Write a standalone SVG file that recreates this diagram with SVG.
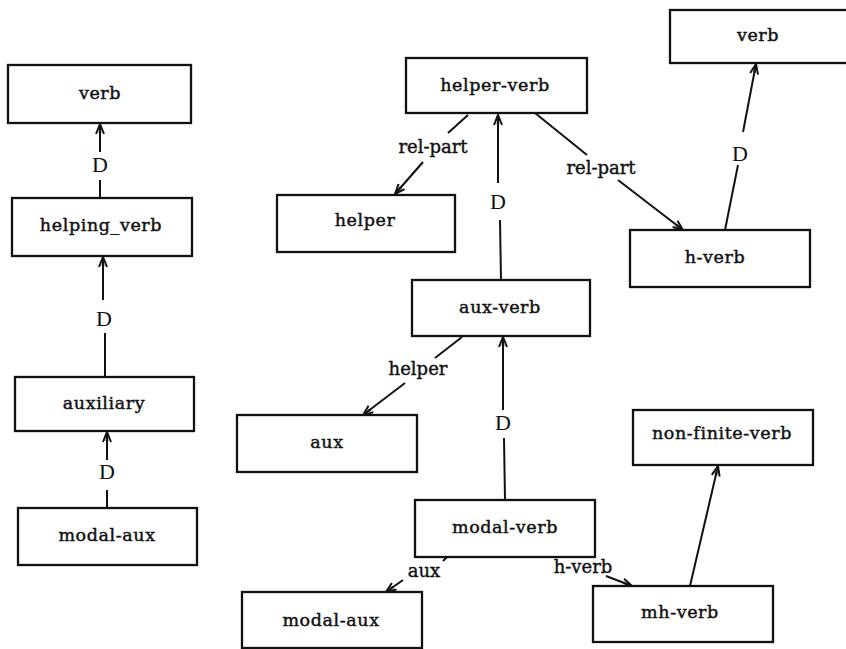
<svg xmlns="http://www.w3.org/2000/svg" width="846" height="649" viewBox="0 0 846 649">
  <style>
    .box { fill: #fff; stroke: #111; stroke-width: 2.3; }
    .lbl { font-family: "DejaVu Serif", "Liberation Serif", serif; font-size: 17.5px; fill: #111; stroke: #111; stroke-width: 0.45; text-anchor: middle; letter-spacing: 0.6px; }
    .elbl { font-family: "DejaVu Serif", "Liberation Serif", serif; font-size: 18px; fill: #111; stroke: #111; stroke-width: 0.4; text-anchor: middle; }
    .d { font-family: "Liberation Serif", serif; font-size: 22px; fill: #111; text-anchor: middle; }
    .edge { fill: none; stroke: #111; stroke-width: 2; }
    .arr { marker-end: url(#head); }
  </style>
  <defs>
    <marker id="head" viewBox="0 0 12 10" refX="11" refY="5" markerWidth="12" markerHeight="10" markerUnits="userSpaceOnUse" orient="auto">
      <path d="M1,1 L11,5 L1,9" fill="none" stroke="#111" stroke-width="2"/>
      <path d="M2,3.6 L11,5 L2,6.4 Z" fill="#111"/>
    </marker>
  </defs>
  <rect width="846" height="649" fill="#fff"/>

  <!-- connectors -->
  <g id="connectors">
    <!-- left column: D links -->
    <line class="edge arr" x1="100" y1="152" x2="100" y2="124"/>
    <line class="edge" x1="100" y1="180" x2="100" y2="198"/>
    <text class="d" x="100" y="172">D</text>

    <line class="edge arr" x1="103" y1="300" x2="103" y2="257"/>
    <line class="edge" x1="105" y1="333" x2="105" y2="377"/>
    <text class="d" x="104" y="326">D</text>

    <line class="edge arr" x1="107" y1="460" x2="107" y2="432"/>
    <line class="edge" x1="107" y1="490" x2="107" y2="508"/>
    <text class="d" x="107" y="479">D</text>

    <!-- helper-verb -> helper (rel-part) -->
    <line class="edge" x1="468" y1="115" x2="448" y2="133"/>
    <line class="edge arr" x1="423" y1="162" x2="395" y2="194"/>
    <text class="elbl" x="433" y="153">rel-part</text>

    <!-- helper-verb -> h-verb (rel-part) -->
    <line class="edge" x1="535" y1="113" x2="587" y2="155"/>
    <line class="edge arr" x1="618" y1="180" x2="683" y2="230"/>
    <text class="elbl" x="601" y="174">rel-part</text>

    <!-- h-verb -> verb (D) -->
    <line class="edge" x1="725" y1="230" x2="738" y2="165"/>
    <line class="edge arr" x1="743" y1="132" x2="756" y2="64"/>
    <text class="d" x="740" y="161">D</text>

    <!-- aux-verb -> helper-verb (D) -->
    <line class="edge arr" x1="498" y1="183" x2="498" y2="115"/>
    <line class="edge" x1="500" y1="220" x2="501" y2="280"/>
    <text class="d" x="498" y="209">D</text>

    <!-- aux-verb -> aux (helper) -->
    <line class="edge" x1="462" y1="337" x2="435" y2="358"/>
    <line class="edge arr" x1="405" y1="383" x2="363" y2="415"/>
    <text class="elbl" x="418" y="375">helper</text>

    <!-- modal-verb -> aux-verb (D) -->
    <line class="edge arr" x1="503" y1="410" x2="503" y2="337"/>
    <line class="edge" x1="504" y1="438" x2="505" y2="500"/>
    <text class="d" x="503" y="430">D</text>

    <!-- modal-verb -> modal-aux (aux) -->
    <line class="edge" x1="447" y1="557" x2="443" y2="561"/>
    <line class="edge arr" x1="403" y1="580" x2="386" y2="592"/>
    <text class="elbl" x="424" y="577">aux</text>

    <!-- modal-verb -> mh-verb (h-verb) -->
    <line class="edge arr" x1="606" y1="576" x2="632" y2="586"/>
    <text class="elbl" x="583" y="573">h-verb</text>

    <!-- mh-verb -> non-finite-verb -->
    <line class="edge arr" x1="690" y1="586" x2="718" y2="466"/>
  </g>

  <!-- left column -->
  <g id="verb-left">
    <rect class="box" x="8" y="65" width="183" height="58"/>
    <text class="lbl" x="100" y="99">verb</text>
  </g>
  <g id="helping-verb">
    <rect class="box" x="12" y="198" width="180" height="58"/>
    <text class="lbl" x="101" y="231">helping_verb</text>
  </g>
  <g id="auxiliary">
    <rect class="box" x="15" y="377" width="179" height="54"/>
    <text class="lbl" x="104" y="409">auxiliary</text>
  </g>
  <g id="modal-aux-left">
    <rect class="box" x="18" y="508" width="179" height="57"/>
    <text class="lbl" x="107" y="541">modal-aux</text>
  </g>

  <!-- centre and right -->
  <g id="helper-verb">
    <rect class="box" x="406" y="58" width="181" height="55"/>
    <text class="lbl" x="495" y="91">helper-verb</text>
  </g>
  <g id="helper">
    <rect class="box" x="277" y="195" width="178" height="57"/>
    <text class="lbl" x="365" y="226">helper</text>
  </g>
  <g id="verb-right">
    <rect class="box" x="670" y="10" width="182" height="53"/>
    <text class="lbl" x="758" y="41">verb</text>
  </g>
  <g id="h-verb">
    <rect class="box" x="630" y="230" width="180" height="57"/>
    <text class="lbl" x="715" y="263">h-verb</text>
  </g>
  <g id="aux-verb">
    <rect class="box" x="412" y="280" width="178" height="56"/>
    <text class="lbl" x="500" y="313">aux-verb</text>
  </g>
  <g id="aux">
    <rect class="box" x="237" y="415" width="180" height="57"/>
    <text class="lbl" x="327" y="448">aux</text>
  </g>
  <g id="non-finite-verb">
    <rect class="box" x="633" y="410" width="180" height="55"/>
    <text class="lbl" x="722" y="439">non-finite-verb</text>
  </g>
  <g id="modal-verb">
    <rect class="box" x="415" y="500" width="180" height="57"/>
    <text class="lbl" x="505" y="533">modal-verb</text>
  </g>
  <g id="modal-aux">
    <rect class="box" x="242" y="592" width="180" height="56"/>
    <text class="lbl" x="331" y="626">modal-aux</text>
  </g>
  <g id="mh-verb">
    <rect class="box" x="593" y="586" width="180" height="56"/>
    <text class="lbl" x="680" y="618">mh-verb</text>
  </g>
</svg>
